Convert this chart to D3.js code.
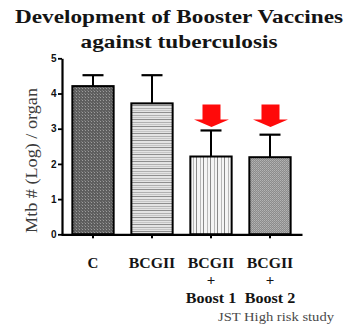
<!DOCTYPE html>
<html>
<head>
<meta charset="utf-8">
<script src="https://cdn.jsdelivr.net/npm/d3@7"></script>
<style>
  html, body { margin: 0; padding: 0; background: #fff; }
  svg { display: block; }
</style>
</head>
<body>
<svg id="chart" width="359" height="327"></svg>
<script>
// ---- data ----
const titleLines = ["Development of Booster Vaccines", "against tuberculosis"];
const categories = ["C", "BCGII", "BCGII + Boost 1", "BCGII + Boost 2"];
const categoryLabelLines = [["C"], ["BCGII"], ["BCGII", "+", "Boost 1"], ["BCGII", "+", "Boost 2"]];
const means = [4.21, 3.72, 2.21, 2.19];
const errorTops = [4.52, 4.52, 2.95, 2.83];
const highlighted = [false, false, true, true];
const arrowTop = 3.69, arrowTip = 3.05, arrowNeck = 3.26;
const yTicks = [0, 1, 2, 3, 4, 5];
const yLabel = "Mtb # (Log) / organ";
const footnote = "JST High risk study";

// ---- layout ----
const svg = d3.select("#chart");
const y = d3.scaleLinear().domain([0, 5]).range([234.3, 58.3]);
const x = d3.scaleBand().domain(categories).range([61, 302]).paddingInner(0.3).paddingOuter(0.1925);
const fills = ["url(#p1)", "url(#p2)", "url(#p3)", "url(#p4)"];

// patterns
const defs = svg.append("defs");
const p1 = defs.append("pattern").attr("id", "p1").attr("patternUnits", "userSpaceOnUse").attr("width", 3).attr("height", 3);
p1.append("rect").attr("width", 3).attr("height", 3).attr("fill", "#5e5e5e");
p1.append("rect").attr("x", 1).attr("y", 1).attr("width", 1).attr("height", 1).attr("fill", "#9c9c9c");
p1.append("rect").attr("x", 0).attr("y", 0).attr("width", 1).attr("height", 1).attr("fill", "#7a7a7a");
const p2 = defs.append("pattern").attr("id", "p2").attr("patternUnits", "userSpaceOnUse").attr("width", 4).attr("height", 7);
p2.append("rect").attr("width", 4).attr("height", 7).attr("fill", "#e4e4e4");
p2.append("rect").attr("y", 0).attr("width", 4).attr("height", 1).attr("fill", "#8e8e8e");
p2.append("rect").attr("y", 3).attr("width", 4).attr("height", 1).attr("fill", "#b0b0b0");
p2.append("rect").attr("y", 5).attr("width", 4).attr("height", 1).attr("fill", "#c6c6c6");
const p3 = defs.append("pattern").attr("id", "p3").attr("patternUnits", "userSpaceOnUse").attr("width", 7).attr("height", 4);
p3.append("rect").attr("width", 7).attr("height", 4).attr("fill", "#f5f5f5");
p3.append("rect").attr("x", 0).attr("width", 1).attr("height", 4).attr("fill", "#8a8a8a");
p3.append("rect").attr("x", 4).attr("width", 1).attr("height", 4).attr("fill", "#b8b8b8");
const p4 = defs.append("pattern").attr("id", "p4").attr("patternUnits", "userSpaceOnUse").attr("width", 2).attr("height", 2);
p4.append("rect").attr("width", 2).attr("height", 2).attr("fill", "#8c8c8c");
p4.append("rect").attr("width", 1).attr("height", 1).attr("fill", "#b4b4b4");
p4.append("rect").attr("x", 1).attr("y", 1).attr("width", 1).attr("height", 1).attr("fill", "#a6a6a6");

// title
const titleWidths = [328, 197];
const titleBaselines = [22.7, 47.5];
svg.selectAll("text.title").data(titleLines).join("text")
  .attr("class", "title")
  .attr("x", 179).attr("y", (d, i) => titleBaselines[i])
  .attr("text-anchor", "middle")
  .attr("textLength", (d, i) => titleWidths[i])
  .attr("lengthAdjust", "spacingAndGlyphs")
  .style("font-family", "'Liberation Serif', serif")
  .style("font-weight", "bold").style("font-size", "19px").style("fill", "#141414")
  .text(d => d);

// error bars (behind bars)
const cap = 21;
const g = svg.append("g");
categories.forEach((c, i) => {
  const cx = x(c) + x.bandwidth() / 2;
  g.append("line").attr("x1", cx).attr("x2", cx).attr("y1", y(means[i])).attr("y2", y(errorTops[i]))
    .attr("stroke", "#000").attr("stroke-width", 2);
  g.append("line").attr("x1", cx - cap / 2).attr("x2", cx + cap / 2).attr("y1", y(errorTops[i])).attr("y2", y(errorTops[i]))
    .attr("stroke", "#000").attr("stroke-width", 2.2);
});

// bars
svg.append("g").selectAll("rect").data(categories).join("rect")
  .attr("x", d => x(d)).attr("width", x.bandwidth())
  .attr("y", (d, i) => y(means[i])).attr("height", (d, i) => y(0) - y(means[i]))
  .attr("fill", (d, i) => fills[i]).attr("stroke", "#000").attr("stroke-width", 2);

// arrows
const shaftW = 18, headW = 35;
categories.forEach((c, i) => {
  if (!highlighted[i]) return;
  const cx = x(c) + x.bandwidth() / 2 + 0.5;
  const pts = [
    [cx - shaftW / 2, y(arrowTop)], [cx + shaftW / 2, y(arrowTop)], [cx + shaftW / 2, y(arrowNeck)],
    [cx + headW / 2, y(arrowNeck)], [cx, y(arrowTip)], [cx - headW / 2, y(arrowNeck)], [cx - shaftW / 2, y(arrowNeck)]
  ];
  svg.append("path").attr("d", d3.line()(pts) + "Z").attr("fill", "#ff0a0a");
});

// y axis
const yAxis = svg.append("g").attr("transform", "translate(62,0)")
  .call(d3.axisLeft(y).tickValues(yTicks).tickSize(4).tickSizeOuter(0).tickPadding(1.5).tickFormat(d3.format("d")));
yAxis.select(".domain").attr("stroke-width", 2.2);
yAxis.selectAll(".tick line").attr("stroke-width", 1.8);
yAxis.selectAll(".tick text").style("font-family", "'Liberation Sans', Arial, sans-serif")
  .style("font-weight", "bold").style("font-size", "10px").attr("fill", "#111");

// x axis
const xAxis = svg.append("g").attr("transform", `translate(0,${y(0)})`)
  .call(d3.axisBottom(x).tickSize(4).tickSizeOuter(0).tickFormat(""));
xAxis.select(".domain").attr("stroke-width", 2.2);
xAxis.selectAll(".tick line").attr("stroke-width", 2);

// category labels
const lineBaselines = [268.3, 285, 303];
categories.forEach((c, i) => {
  const cx = x(c) + x.bandwidth() / 2;
  categoryLabelLines[i].forEach((t, j) => {
    svg.append("text").attr("x", cx).attr("y", lineBaselines[j])
      .attr("text-anchor", "middle")
      .style("font-family", "'Liberation Serif', serif")
      .style("font-weight", "bold").style("font-size", "15px").style("fill", "#141414")
      .attr("textLength", t === "BCGII" ? 46.5 : (t.startsWith("Boost") ? 50.5 : null))
      .attr("lengthAdjust", "spacingAndGlyphs")
      .text(t);
  });
});

// y label
svg.append("text")
  .attr("transform", "translate(36.5,160.5) rotate(-90)")
  .attr("text-anchor", "middle")
  .attr("textLength", 145).attr("lengthAdjust", "spacingAndGlyphs")
  .style("font-family", "'Liberation Serif', serif")
  .style("font-size", "16px").style("fill", "#3c3c3c")
  .text(yLabel);

// footnote
svg.append("text").attr("x", 334).attr("y", 320.5).attr("text-anchor", "end")
  .attr("textLength", 116).attr("lengthAdjust", "spacingAndGlyphs")
  .style("font-family", "'Liberation Serif', serif")
  .style("font-size", "12.5px").style("fill", "#4a4a4a")
  .text(footnote);
</script>
</body>
</html>
